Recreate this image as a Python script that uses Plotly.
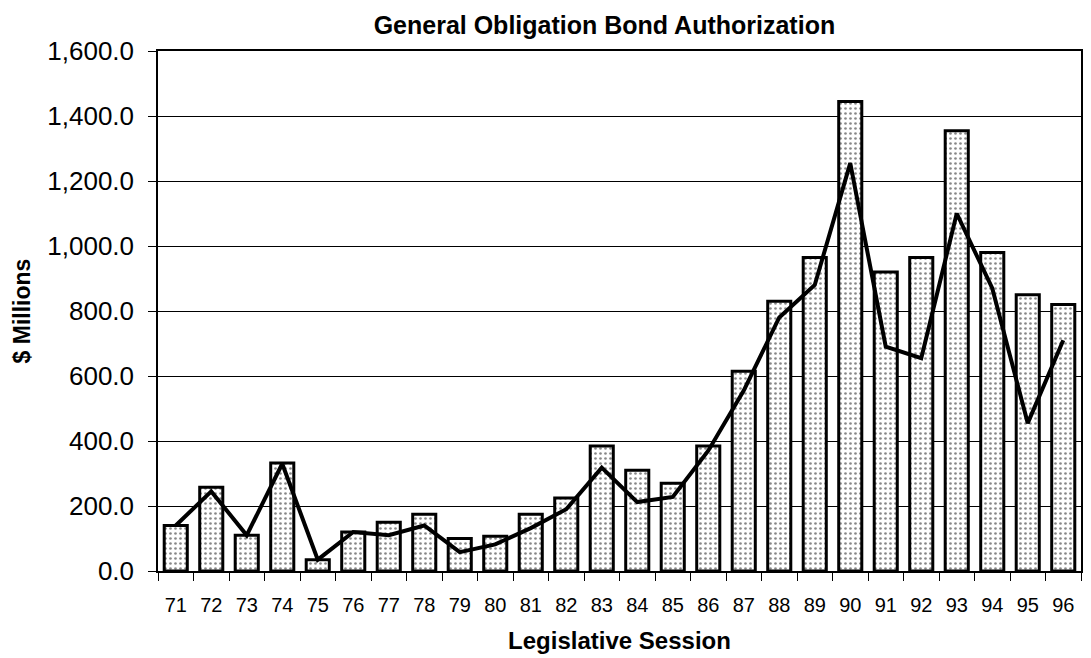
import plotly.graph_objects as go

sessions = ["71", "72", "73", "74", "75", "76", "77", "78", "79", "80", "81", "82", "83",
            "84", "85", "86", "87", "88", "89", "90", "91", "92", "93", "94", "95", "96"]
authorized = [140, 258, 110, 332, 35, 120, 150, 175, 100, 107, 175, 225, 385,
              310, 270, 385, 615, 830, 965, 1445, 920, 965, 1355, 980, 850, 820]
trend = [140, 245, 110, 330, 35, 120, 110, 140, 58, 82, 132, 190, 318,
         212, 228, 370, 555, 780, 880, 1255, 690, 655, 1100, 870, 455, 710]
y_ticks = [0, 200, 400, 600, 800, 1000, 1200, 1400, 1600]

FONT = "Arial, Liberation Sans, sans-serif"

fig = go.Figure()
fig.add_trace(go.Bar(
    x=sessions, y=authorized,
    marker=dict(
        color="white",
        line=dict(color="black", width=3),
        pattern=dict(shape=".", fgcolor="#111", bgcolor="white", size=5, solidity=0.22),
    ),
    showlegend=False,
))
fig.add_trace(go.Scatter(
    x=sessions, y=trend, mode="lines",
    line=dict(color="black", width=4),
    showlegend=False,
))

fig.update_layout(
    width=1091, height=658,
    paper_bgcolor="white", plot_bgcolor="white",
    margin=dict(l=158, r=10, t=51, b=87, autoexpand=False),
    bargap=0.35,
    font=dict(family=FONT, color="black"),
    title=dict(text="<b>General Obligation Bond Authorization</b>",
               x=0.554, xanchor="center", xref="container",
               y=0.962, yanchor="middle", yref="container",
               font=dict(size=25, family=FONT, color="black")),
)
fig.update_xaxes(
    type="category", tickson="boundaries", ticks="outside", ticklen=8,
    tickcolor="black", tickwidth=1,
    showline=True, linecolor="black", linewidth=1.5, mirror=True,
    showgrid=False, automargin=False,
    tickfont=dict(size=20, family=FONT),
    ticklabelstandoff=15,
    title=dict(text="<b>Legislative Session</b>", font=dict(size=24, family=FONT), standoff=17),
)
fig.update_yaxes(
    range=[0, 1600], tickvals=y_ticks, tickformat=",.1f",
    ticks="outside", ticklen=8, tickcolor="black",
    showline=True, linecolor="black", linewidth=1.5, mirror=True,
    showgrid=True, gridcolor="black", gridwidth=1,
    zeroline=False, automargin=False,
    tickfont=dict(size=26, family=FONT),
    ticklabelstandoff=9,
    title=dict(text="<b>$ Millions</b>", font=dict(size=23, family=FONT), standoff=10),
)

fig.write_html("out.html", config={"displayModeBar": False},
               post_script="document.body.style.margin='0';")
